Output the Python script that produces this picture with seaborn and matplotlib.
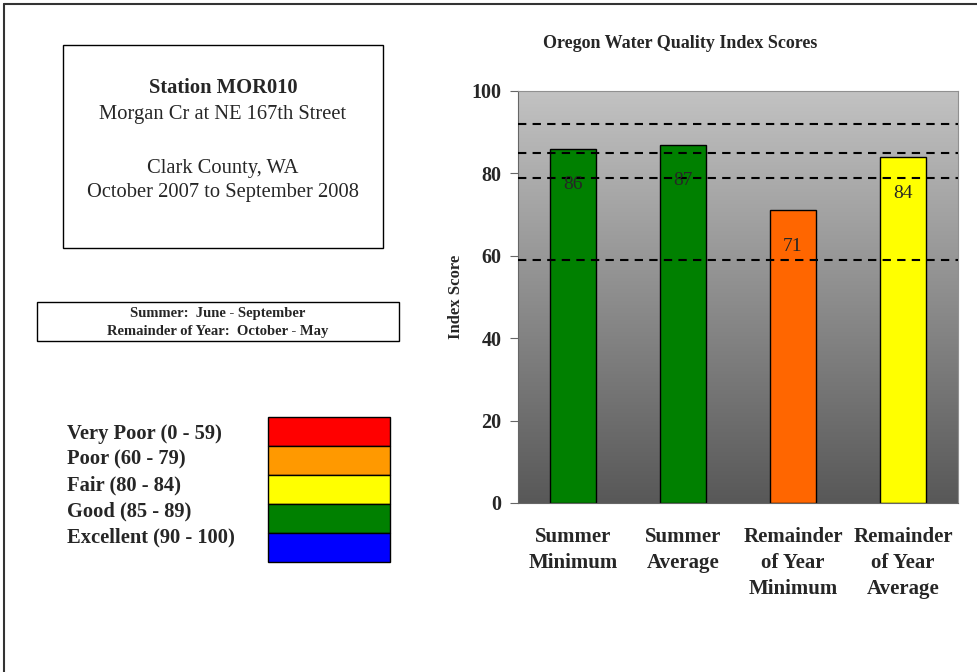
import numpy as np
import pandas as pd
import matplotlib
matplotlib.use("Agg")
import matplotlib.pyplot as plt
from matplotlib.colors import LinearSegmentedColormap
from matplotlib.patches import Rectangle
from matplotlib.lines import Line2D
import seaborn as sns

# data
categories = ["Summer\nMinimum", "Summer\nAverage", "Remainder\nof Year\nMinimum", "Remainder\nof Year\nAverage"]
scores = [86, 87, 71, 84]
bar_colors = ["#008000", "#008000", "#FF6600", "#FFFF00"]
threshold_lines = [92, 85, 79, 59]
y_ticks = [0, 20, 40, 60, 80, 100]

legend_labels = ["Very Poor (0 - 59)", "Poor (60 - 79)", "Fair (80 - 84)", "Good (85 - 89)", "Excellent (90 - 100)"]
legend_colors = ["#FF0000", "#FF9900", "#FFFF00", "#008000", "#0000FF"]

station_lines = ["Station MOR010", "Morgan Cr at NE 167th Street", "Clark County, WA", "October 2007 to September 2008"]
season_lines = ["Summer:  June - September", "Remainder of Year:  October - May"]

sns.set_style("white")
plt.rcParams["font.family"] = ["Liberation Serif", "DejaVu Serif"]

W, H = 978, 672
fig = plt.figure(figsize=(W / 100, H / 100), dpi=100)

def fx(px):
    return px / W

def fy(py):
    return 1 - py / H

# outer frame (top and left only visible)
fig.add_artist(Line2D([fx(4), 1], [fy(4), fy(4)], color="#333333", lw=1.5))
fig.add_artist(Line2D([fx(4), fx(4)], [fy(4), 0], color="#333333", lw=1.5))

# chart
ax = fig.add_axes([fx(518), fy(503), fx(958) - fx(518), fy(91) - fy(503)])
df = pd.DataFrame({"cat": categories, "score": scores})
sns.barplot(data=df, x="cat", y="score", hue="cat", palette=bar_colors, saturation=1, width=0.41,
            edgecolor="black", linewidth=1, legend=False, ax=ax, zorder=2)

grad = np.linspace(0, 1, 256).reshape(-1, 1)
cmap = LinearSegmentedColormap.from_list("bg", ["#c2c2c2", "#585858"])
ax.imshow(grad, cmap=cmap, aspect="auto", extent=[0, 1, 0, 1], transform=ax.transAxes, zorder=0)

for v in threshold_lines:
    ax.axhline(v, color="black", lw=1.5, dashes=(4, 3), zorder=3)

for i, v in enumerate(scores):
    ax.annotate(str(v), (i, v), xytext=(0, -26), textcoords="offset points",
                ha="center", va="center", fontsize=14, zorder=4)

ax.set_xlim(-0.5, len(categories) - 0.5)
ax.set_ylim(0, 100)
ax.set_yticks(y_ticks)
ax.set_yticklabels([str(t) for t in y_ticks], fontsize=14.5, fontweight="bold")
ax.set_xticks(range(len(categories)))
ax.set_xticklabels(categories, fontsize=15, fontweight="bold", linespacing=1.4)
ax.set_xticks(np.arange(-0.5, len(categories)), minor=True)
ax.tick_params(axis="x", which="major", length=0, pad=17)
ax.tick_params(axis="x", which="minor", length=6, direction="out", color="#666666")
ax.tick_params(axis="y", length=6, direction="out", color="#666666", left=True, pad=6)
ax.set_xlabel("")
ax.set_ylabel("Index Score", fontsize=12, fontweight="bold", labelpad=5)
for s in ["left", "bottom"]:
    ax.spines[s].set_color("#666666")
for s in ["top", "right"]:
    ax.spines[s].set_color("#909090")

fig.text(fx(680), fy(44), "Oregon Water Quality Index Scores", ha="center", va="center",
         fontsize=13, fontweight="bold")

# station box
fig.add_artist(Rectangle((fx(63), fy(248)), fx(383) - fx(63), fy(45) - fy(248),
                         fill=False, edgecolor="black", lw=1))
fig.text(fx(223), fy(88), station_lines[0], ha="center", va="center", fontsize=14.8, fontweight="bold")
fig.text(fx(223), fy(115), station_lines[1], ha="center", va="center", fontsize=14.8)
fig.text(fx(223), fy(168), station_lines[2], ha="center", va="center", fontsize=14.8)
fig.text(fx(223), fy(192), station_lines[3], ha="center", va="center", fontsize=14.8)

# season box
fig.add_artist(Rectangle((fx(37), fy(341)), fx(399) - fx(37), fy(302) - fy(341),
                         fill=False, edgecolor="black", lw=1))
fig.text(fx(218), fy(314), season_lines[0], ha="center", va="center", fontsize=10.5, fontweight="bold")
fig.text(fx(218), fy(331), season_lines[1], ha="center", va="center", fontsize=10.5, fontweight="bold")

# colour legend
row_h = 29
for i, (lab, col) in enumerate(zip(legend_labels, legend_colors)):
    top = 417 + i * row_h
    fig.add_artist(Rectangle((fx(268), fy(top + row_h)), fx(390) - fx(268), row_h / H,
                             facecolor=col, edgecolor="black", lw=1))
    fig.text(fx(67), fy(434 + i * 25.8), lab, ha="left", va="center", fontsize=14.8, fontweight="bold")

fig.savefig("out.png", dpi=100)
